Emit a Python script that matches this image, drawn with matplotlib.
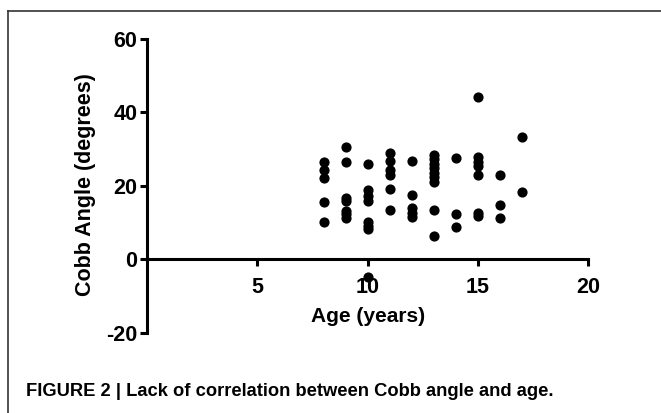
import matplotlib
matplotlib.use("Agg")
import matplotlib.pyplot as plt
from matplotlib.lines import Line2D

plt.rcParams['font.family'] = ['Liberation Sans', 'DejaVu Sans']
plt.rcParams['font.weight'] = 'bold'
plt.rcParams['axes.unicode_minus'] = False

# age (years) and Cobb angle (degrees)
age = [8, 8, 8, 8, 8,
       9, 9, 9, 9, 9, 9, 9,
       10, 10, 10, 10, 10, 10, 10, 10,
       11, 11, 11, 11, 11, 11,
       12, 12, 12, 12, 12,
       13, 13, 13, 13, 13, 13, 13, 13, 13,
       14, 14, 14,
       15, 15, 15, 15, 15, 15, 15,
       16, 16, 16,
       17, 17]
cobb = [26.4, 24.2, 22.2, 15.6, 10.0,
        30.4, 26.4, 16.6, 15.9, 13.2, 12.2, 11.3,
        26.0, 18.8, 17.3, 15.8, 10.0, 9.0, 8.1, -5.0,
        28.8, 26.6, 24.2, 22.9, 19.1, 13.4,
        26.6, 17.5, 13.8, 12.6, 11.5,
        28.3, 27.2, 26.0, 24.8, 23.5, 22.3, 21.0, 13.5, 6.3,
        27.6, 12.4, 8.8,
        44.1, 27.7, 26.5, 25.3, 22.9, 12.5, 11.8,
        23.0, 14.7, 11.2,
        33.3, 18.3]

xticks = [5, 10, 15, 20]
yticks = [-20, 0, 20, 40, 60]

fig = plt.figure(figsize=(6.61, 4.13), dpi=100)
ax = fig.add_axes([0.2227, 0.1949, 0.667, 0.7112])

ax.scatter(age, cobb, s=40, color='black', zorder=3, clip_on=False)

ax.set_xlim(0, 20)
ax.set_ylim(-20, 60)
ax.set_xticks(xticks)
ax.set_yticks(yticks)

ax.spines['top'].set_visible(False)
ax.spines['right'].set_visible(False)
ax.spines['bottom'].set_position(('data', 0))
for s in ['left', 'bottom']:
    ax.spines[s].set_linewidth(2.2)

ax.tick_params(axis='both', width=2.2, length=5, labelsize=15.5, direction='out')
ax.tick_params(axis='x', pad=8)
ax.tick_params(axis='y', pad=2)
for lab in ax.get_xticklabels() + ax.get_yticklabels():
    lab.set_fontweight('bold')

ax.set_ylabel('Cobb Angle (degrees)', fontsize=15.5, fontweight='bold')
ax.yaxis.set_label_coords(-0.116, 0.504)
ax.set_xlabel('Age (years)', fontsize=15, fontweight='bold')
ax.xaxis.set_label_coords(0.5, 0.087)

# caption
fig.text(0.04, 0.053, 'FIGURE 2 | Lack of correlation between Cobb angle and age.',
         fontsize=13.2, fontweight='bold', va='center', ha='left')

# thin frame around the figure panel (top and left edges)
fig.add_artist(Line2D([8/661, 1.0], [1 - 10.5/413, 1 - 10.5/413], color='#333333', lw=1.2))
fig.add_artist(Line2D([8/661, 8/661], [0.0, 1 - 10.5/413], color='#333333', lw=1.2))

fig.savefig('out.png', dpi=100)
